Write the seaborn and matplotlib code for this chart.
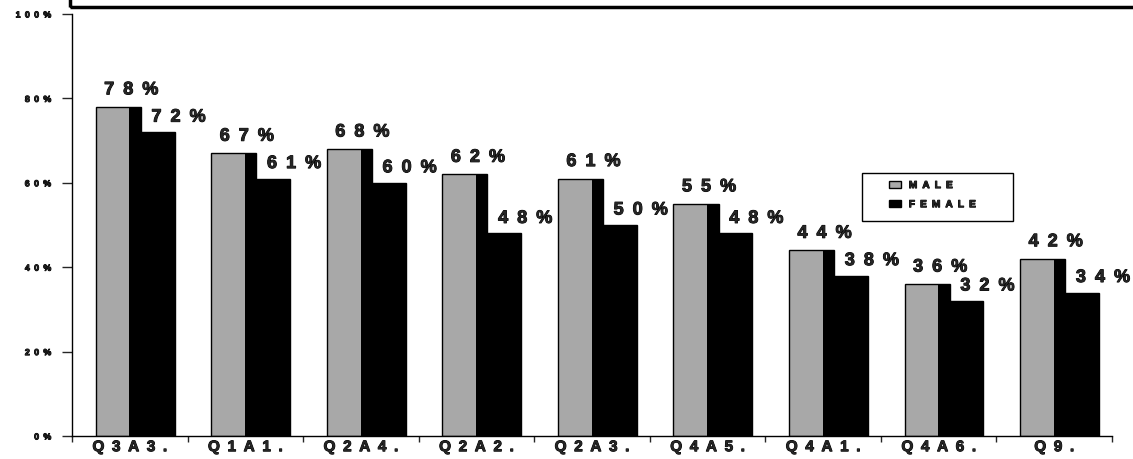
import matplotlib
matplotlib.use('Agg')
import matplotlib.pyplot as plt
import matplotlib.patheffects as pe
from matplotlib.patches import Rectangle, Patch
import numpy as np
import pandas as pd
import seaborn as sns

# data
questions = ['Q3A3.', 'Q1A1.', 'Q2A4.', 'Q2A2.', 'Q2A3.', 'Q4A5.', 'Q4A1.', 'Q4A6.', 'Q9.']
male = [78, 67, 68, 62, 61, 55, 44, 36, 42]
female = [72, 61, 60, 48, 50, 48, 38, 32, 34]
yticks = [0, 20, 40, 60, 80, 100]
series = ['MALE', 'FEMALE']


def spaced(s):
    # old printout look: letters spread apart (en space)
    return '\u2002'.join(s)


sns.set_style('ticks')
plt.rcParams['font.family'] = ['Liberation Sans', 'DejaVu Sans']
plt.rcParams['font.weight'] = 'bold'

heavy = [pe.withStroke(linewidth=0.7, foreground='black')]

W, H = 1133, 460
fig = plt.figure(figsize=(W / 100, H / 100), dpi=100)
ax = fig.add_axes([72 / W, 23 / H, 1040 / W, 422 / H])

idx = np.arange(len(questions))
df_m = pd.DataFrame({'pos': idx - 0.10, 'value': male})
df_f = pd.DataFrame({'pos': idx + 0.24, 'value': female})

sns.barplot(data=df_m, x='pos', y='value', native_scale=True, orient='x', width=0.39,
            color='#a8a8a8', saturation=1, edgecolor='black', linewidth=1.0, ax=ax)
sns.barplot(data=df_f, x='pos', y='value', native_scale=True, orient='x', width=0.295,
            color='black', saturation=1, edgecolor='black', linewidth=1.0, ax=ax)

# dark side on the right of the grey bars
for p in ax.containers[0]:
    ax.add_patch(Rectangle((p.get_x() + p.get_width() * 0.75, 0), p.get_width() * 0.25,
                           p.get_height(), facecolor='black', edgecolor='none'))

for p, v in zip(ax.containers[0], male):
    ax.annotate(spaced(f'{v}%'), (p.get_x() + p.get_width() / 2, p.get_height()),
                xytext=(13, 17), textcoords='offset pixels', ha='center', va='center',
                fontsize=13, fontweight='bold', path_effects=heavy)
for p, v in zip(ax.containers[1], female):
    ax.annotate(spaced(f'{v}%'), (p.get_x() + p.get_width() / 2, p.get_height()),
                xytext=(21, 15), textcoords='offset pixels', ha='center', va='center',
                fontsize=13, fontweight='bold', path_effects=heavy)

ax.set_xlim(-0.5, len(questions) - 0.5)
ax.set_ylim(0, 100)
ax.set_xlabel('')
ax.set_ylabel('')

ax.set_xticks(idx)
ax.set_xticklabels([spaced(q) for q in questions], fontsize=11, fontweight='bold')
ax.set_xticks(np.arange(len(questions) + 1) - 0.5, minor=True)
ax.tick_params(axis='x', which='major', length=0, pad=3)
ax.tick_params(axis='x', which='minor', length=4, width=1, direction='out')

ax.set_yticks(yticks)
ax.set_yticklabels([spaced(f'{t}%') for t in yticks], fontsize=6.3, fontweight='bold')
ax.tick_params(axis='y', length=7, width=1, pad=8, direction='out')
for t in ax.get_xticklabels() + ax.get_yticklabels():
    t.set_path_effects(heavy)

sns.despine(ax=ax)
for s in ['left', 'bottom']:
    ax.spines[s].set_color('black')
    ax.spines[s].set_linewidth(1.0)

# legend without its own frame, boxed separately to get the wide left margin
handles = [Patch(facecolor='#a8a8a8', edgecolor='black'), Patch(facecolor='black', edgecolor='black')]
leg = ax.legend(handles, [spaced(s) for s in series], loc='upper left',
                bbox_to_anchor=(885 / W, 1 - 177 / H), bbox_transform=fig.transFigure,
                borderaxespad=0, frameon=False, fontsize=7.3, handlelength=1.2,
                handleheight=0.6, labelspacing=0.9, handletextpad=0.75)
for t in leg.get_texts():
    t.set_path_effects(heavy)
fig.patches.append(Rectangle((862 / W, 1 - 222 / H), 151 / W, 48 / H, transform=fig.transFigure,
                             fill=False, edgecolor='black', linewidth=1.0))

# bottom edge of the cut-off title box at the top
fig.patches.append(Rectangle((70 / W, 1 - 8 / H), 2, 1, transform=fig.transFigure,
                             fill=False, edgecolor='black', linewidth=2.5, clip_on=False))

fig.savefig('out.png', dpi=100)
